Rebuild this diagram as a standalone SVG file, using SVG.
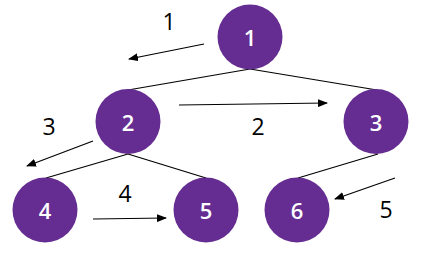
<svg xmlns="http://www.w3.org/2000/svg" width="424" height="259" viewBox="0 0 424 259">
<style>
.node{fill:#652D91}
.nt{fill:#fff;font-family:"Open Sans","Liberation Sans",sans-serif;font-size:22px;font-weight:600;text-anchor:middle;dominant-baseline:central}
.edge{stroke:#000;stroke-width:1.2;fill:none}
.arr{stroke:#000;stroke-width:1.2;fill:none;marker-end:url(#ah)}
.lbl{fill:#000;font-family:"Open Sans","Liberation Sans",sans-serif;font-size:23px;text-anchor:middle}
</style>
<defs>
<marker id="ah" markerUnits="userSpaceOnUse" markerWidth="10" markerHeight="8" refX="9" refY="4" orient="auto">
<path d="M0,0 L10,4 L0,8 Z" fill="#000"/>
</marker>
</defs>
<rect width="424" height="259" fill="#fff"/>
<g id="connectors">
<line class="edge" x1="250" y1="69" x2="128" y2="90"/>
<line class="edge" x1="250" y1="69" x2="377" y2="90"/>
<line class="edge" x1="128" y1="154" x2="46" y2="178"/>
<line class="edge" x1="128" y1="154" x2="206" y2="178"/>
<line class="edge" x1="378" y1="154" x2="298" y2="178"/>
<line class="arr" x1="204" y1="44" x2="129" y2="59"/>
<line class="arr" x1="179" y1="105" x2="327" y2="103"/>
<line class="arr" x1="93" y1="141" x2="27" y2="166"/>
<line class="arr" x1="93" y1="219" x2="166" y2="218"/>
<line class="arr" x1="395" y1="178" x2="335" y2="199"/>
<text class="lbl" x="169" y="30">1</text>
<text class="lbl" x="258" y="135">2</text>
<text class="lbl" x="49" y="135">3</text>
<text class="lbl" x="125" y="201.5">4</text>
<text class="lbl" x="386" y="218">5</text>
</g>
<g id="n1"><circle class="node" cx="250" cy="37" r="32.5"/><text class="nt" x="250" y="37">1</text></g>
<g id="n2"><circle class="node" cx="128" cy="121.5" r="32.5"/><text class="nt" x="128" y="121.5">2</text></g>
<g id="n3"><circle class="node" cx="376" cy="121.5" r="32.5"/><text class="nt" x="376" y="121.5">3</text></g>
<g id="n4"><circle class="node" cx="45" cy="210" r="32.5"/><text class="nt" x="45" y="210">4</text></g>
<g id="n5"><circle class="node" cx="206" cy="210" r="32.5"/><text class="nt" x="206" y="210">5</text></g>
<g id="n6"><circle class="node" cx="297" cy="210" r="32.5"/><text class="nt" x="297" y="210">6</text></g>
</svg>
